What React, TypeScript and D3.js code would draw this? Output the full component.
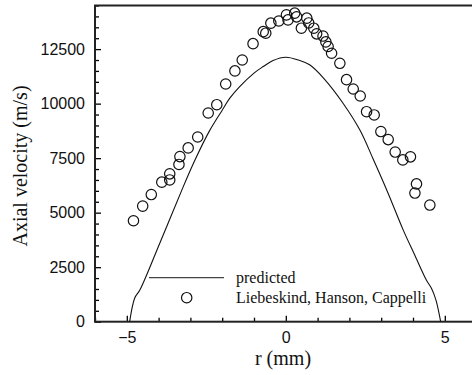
import { useEffect, useRef } from "react";
import * as d3 from "d3";

// predicted axial velocity profile
const predR = [-4.91, -4.75, -4.59, -3.96, -3.28, -2.86, -2.4, -2.0, -1.76, -1.45, -1.0, -0.71, -0.4, 0, 0.4, 0.75, 1.2, 1.8, 2.33, 2.75, 3.2, 3.69, 4.05, 4.42, 4.58, 4.72, 4.87];
const predV = [0, 1090, 1450, 3610, 6000, 7400, 8750, 9700, 10250, 10780, 11400, 11700, 11980, 12130, 12000, 11780, 11150, 10020, 8790, 7450, 5950, 4210, 3070, 1910, 1530, 1000, 0];

// measured points (Liebeskind, Hanson, Cappelli)
const measR = [-4.79, -4.5, -4.23, -3.9, -3.65, -3.65, -3.36, -3.33, -3.07, -2.77, -2.44, -2.17, -1.89, -1.6, -1.37, -1.03, -0.71, -0.63, -0.47, -0.22, 0.02, 0.07, 0.28, 0.34, 0.49, 0.66, 0.72, 0.88, 0.97, 1.17, 1.26, 1.33, 1.44, 1.7, 1.91, 2.12, 2.34, 2.54, 2.78, 2.99, 3.22, 3.44, 3.68, 3.92, 4.11, 4.06, 4.53];
const measV = [4630, 5300, 5830, 6400, 6500, 6780, 7210, 7570, 7970, 8470, 9570, 9950, 10900, 11500, 12000, 12750, 13300, 13230, 13690, 13790, 14070, 13840, 14150, 13980, 13460, 13920, 13700, 13460, 13200, 13100, 12830, 12620, 12310, 11850, 11100, 10670, 10350, 9630, 9480, 8720, 8350, 7780, 7420, 7560, 6320, 5900, 5350];

const xMajor = [-5, 0, 5];
const xMinor = [-6, -4, -3, -2, -1, 1, 2, 3, 4, 6];
const yMajor = [0, 2500, 5000, 7500, 10000, 12500];
const yMinor = d3.range(0, 14501, 500).filter(v => v % 2500 !== 0);

const legendLabels = ["predicted", "Liebeskind, Hanson, Cappelli"];

const sans = "'Liberation Sans', Arial, Helvetica, sans-serif";
const serif = "'Liberation Serif', 'Times New Roman', serif";

const Chart = () => {
    const ref = useRef<SVGSVGElement>(null);

    useEffect(() => {
        const width = 472;
        const height = 375;
        const svg = d3.select(ref.current).attr("width", width).attr("height", height);
        svg.selectAll("*").remove();

        const x = d3.scaleLinear().domain([-6, 6]).range([95, 476.6]);
        const y = d3.scaleLinear().domain([0, 14500]).range([321.7, 5.5]);

        // minor ticks
        svg.append("g")
            .attr("transform", `translate(${x(-6)},0)`)
            .call(d3.axisLeft(y).tickValues(yMinor).tickSize(-4).tickFormat(() => ""))
            .call(g => g.select(".domain").remove())
            .selectAll("line").attr("stroke-width", 1.3);
        svg.append("g")
            .attr("transform", `translate(0,${y(0)})`)
            .call(d3.axisBottom(x).tickValues(xMinor).tickSize(-4).tickFormat(() => ""))
            .call(g => g.select(".domain").remove())
            .selectAll("line").attr("stroke-width", 1.3);

        // major ticks + labels
        const yAxis = svg.append("g")
            .attr("transform", `translate(${x(-6)},0)`)
            .call(d3.axisLeft(y).tickValues(yMajor).tickSize(-6).tickPadding(10).tickFormat(d3.format("d")))
            .call(g => g.select(".domain").remove());
        yAxis.selectAll("line").attr("stroke-width", 1.3);
        yAxis.selectAll("text").style("font-family", sans).style("font-size", "16px").attr("fill", "#111");

        const xAxis = svg.append("g")
            .attr("transform", `translate(0,${y(0)})`)
            .call(d3.axisBottom(x).tickValues(xMajor).tickSize(-6).tickPadding(10).tickFormat(d3.format("d")))
            .call(g => g.select(".domain").remove());
        xAxis.selectAll("line").attr("stroke-width", 1.3);
        xAxis.selectAll("text").style("font-family", sans).style("font-size", "16px").attr("fill", "#111");

        // frame
        svg.append("rect")
            .attr("x", x(-6))
            .attr("y", y(14500))
            .attr("width", x(6) - x(-6))
            .attr("height", y(0) - y(14500))
            .attr("fill", "none")
            .attr("stroke", "#222")
            .attr("stroke-width", 2);

        // predicted curve
        const pts = predR.map((r, i) => [r, predV[i]] as [number, number]);
        const line = d3.line<[number, number]>()
            .x(d => x(d[0]))
            .y(d => y(d[1]))
            .curve(d3.curveCatmullRom.alpha(0.5));
        svg.append("path")
            .datum(pts)
            .attr("fill", "none")
            .attr("stroke", "#111")
            .attr("stroke-width", 1.1)
            .attr("d", line);

        // measured circles
        svg.append("g")
            .selectAll("circle")
            .data(measR.map((r, i) => [r, measV[i]]))
            .join("circle")
            .attr("cx", d => x(d[0]))
            .attr("cy", d => y(d[1]))
            .attr("r", 5.2)
            .attr("fill", "none")
            .attr("stroke", "#111")
            .attr("stroke-width", 1.2);

        // legend
        const lg = svg.append("g");
        lg.append("line")
            .attr("x1", 149).attr("x2", 224)
            .attr("y1", 277.7).attr("y2", 277.7)
            .attr("stroke", "#444")
            .attr("stroke-width", 1.3);
        lg.append("circle")
            .attr("cx", 186.7).attr("cy", 297.7).attr("r", 5.2)
            .attr("fill", "none").attr("stroke", "#111").attr("stroke-width", 1.2);
        lg.selectAll("text")
            .data(legendLabels)
            .join("text")
            .attr("x", 236)
            .attr("y", (d, i) => 282.5 + i * 20.5)
            .style("font-family", serif)
            .style("font-size", "16px")
            .attr("fill", "#111")
            .text(d => d);

        // axis titles
        svg.append("text")
            .attr("x", 283)
            .attr("y", 365)
            .attr("text-anchor", "middle")
            .style("font-family", serif)
            .style("font-size", "20px")
            .attr("fill", "#111")
            .text("r (mm)");

        svg.append("text")
            .attr("transform", "translate(27,166) rotate(-90)")
            .attr("text-anchor", "middle")
            .style("font-family", serif)
            .style("font-size", "20px")
            .attr("fill", "#111")
            .text("Axial velocity (m/s)");
    }, []);

    return <svg ref={ref} style={{ position: "absolute", left: 0, top: 0, background: "#fff" }} />;
};

export default function App() {
    return <Chart />;
}
